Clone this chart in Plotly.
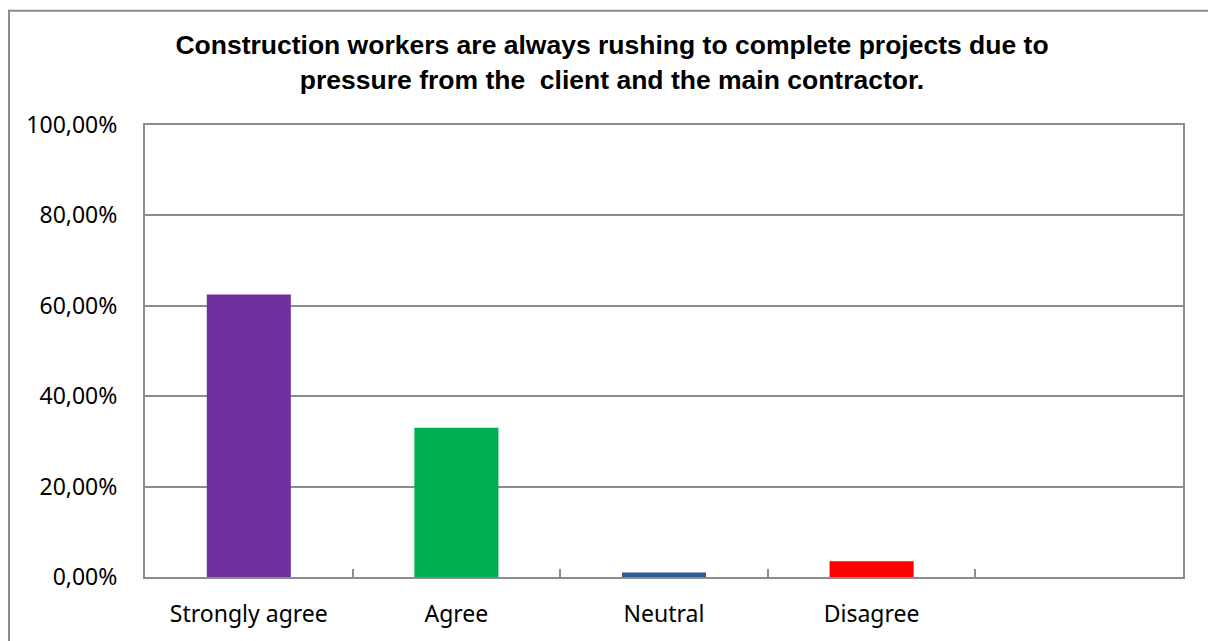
import plotly.graph_objects as go

categories = ["Strongly agree", "Agree", "Neutral", "Disagree", " "]
values = [0.625, 0.33, 0.01, 0.035, None]
colors = ["#7030A0", "#00B050", "#2F5C94", "#FF0000", "#FFFFFF"]
y_ticks = [0, 0.2, 0.4, 0.6, 0.8, 1.0]
title_text = ("Construction workers are always rushing to complete projects due to<br>"
              "pressure from the  client and the main contractor.")

GRAY = "#8C8C8C"
tick_font = dict(family="Noto Sans, Open Sans, sans-serif", size=23, color="#000000")

W, H = 1208, 633
L, R, T, B = 137, 33, 117, 57
PW, PH = W - L - R, H - T - B

fig = go.Figure(go.Bar(
    x=categories, y=values, marker=dict(color=colors, line=dict(width=0)),
    width=0.405, showlegend=False, hoverinfo="skip"))

fig.update_layout(
    width=W, height=H,
    margin=dict(l=L, r=R, t=T, b=B),
    paper_bgcolor="white", plot_bgcolor="white",
    separators=",.",
    title=dict(text=title_text, x=0.5, xanchor="center", y=0.927, yanchor="top",
               font=dict(family="Liberation Sans, Arial, sans-serif", size=26.5,
                         color="#000000", weight="bold")),
    xaxis=dict(type="category", categoryorder="array", categoryarray=categories,
               range=[-0.5, 4.5], tickson="boundaries", ticks="inside", ticklen=8,
               tickcolor=GRAY, tickwidth=2, showgrid=False, showline=True,
               linecolor=GRAY, linewidth=2, mirror=True, tickfont=tick_font,
               ticklabelstandoff=15, fixedrange=True),
    yaxis=dict(range=[0, 1.0], tickvals=y_ticks, tickformat=".2%", ticks="inside",
               ticklen=8, tickcolor=GRAY, tickwidth=2, showgrid=True,
               gridcolor=GRAY, gridwidth=2, showline=True, linecolor=GRAY,
               linewidth=2, mirror=True, zeroline=False, tickfont=tick_font,
               ticklabelstandoff=21, fixedrange=True),
    shapes=[dict(type="rect", xref="paper", yref="paper",
                 x0=(1 - L) / PW, x1=(1203 - L) / PW,
                 y0=-0.3, y1=(PH + T - 1) / PH,
                 line=dict(color=GRAY, width=2), fillcolor="rgba(0,0,0,0)",
                 layer="below")],
)

fig.write_html("out.html")
